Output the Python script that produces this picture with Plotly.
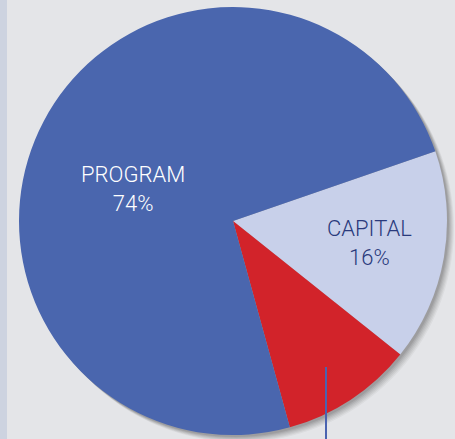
import plotly.graph_objects as go

# slice data (clockwise from the capital slice)
labels = ["CAPITAL", "OTHER", "PROGRAM"]
values = [16, 10, 74]
colors = ["#c8d0ea", "#d2232a", "#4a66ae"]
text_colors = ["#2a3a7c", "#ffffff", "#ffffff"]
show_text = [True, False, True]

W, H = 455, 439
bg = "#e4e5e8"

# pie box in pixels (left, top, size)
px0, py0, size = 19, 7, 428

fig = go.Figure(go.Pie(
    labels=labels,
    values=values,
    sort=False,
    direction="clockwise",
    rotation=71,
    marker=dict(colors=colors, line=dict(width=0)),
    textinfo="none",
    hoverinfo="label+percent",
    showlegend=False,
    domain=dict(x=[px0 / W, (px0 + size) / W], y=[1 - (py0 + size) / H, 1 - py0 / H]),
))

# soft drop shadow to the lower right
for i, a in enumerate([0.04, 0.05, 0.05, 0.06, 0.07, 0.08]):
    off = 7 - i
    fig.add_shape(type="circle", xref="paper", yref="paper", layer="below",
                  x0=(px0 + off) / W, x1=(px0 + size + off) / W,
                  y0=1 - (py0 + size + off) / H, y1=1 - (py0 + off) / H,
                  fillcolor=f"rgba(0,0,0,{a})", line=dict(width=0))

# left edge strip
fig.add_shape(type="rect", xref="paper", yref="paper", layer="below",
              x0=0, x1=7 / W, y0=0, y1=1, fillcolor="#cdd3e0", line=dict(width=0))

# slice labels
label_pos = [(369, 243), None, (133, 189)]
for lab, val, tc, show, pos in zip(labels, values, text_colors, show_text, label_pos):
    if not show:
        continue
    fig.add_annotation(x=pos[0] / W, y=1 - pos[1] / H, xref="paper", yref="paper",
                       xanchor="center", yanchor="middle",
                       text=f"{lab}<br>{val}%", showarrow=False,
                       font=dict(family="Roboto", size=22, weight=300, color=tc))

# leader line for the small slice (label is below the visible area)
fig.add_shape(type="line", xref="paper", yref="paper",
              x0=326 / W, x1=326 / W, y0=1 - 367 / H, y1=0,
              line=dict(color="#4a63b0", width=2))

fig.update_layout(
    width=W, height=H,
    margin=dict(l=0, r=0, t=0, b=0),
    paper_bgcolor=bg,
    plot_bgcolor=bg,
)

fig.write_html("out.html", config={"displayModeBar": False},
               post_script="document.body.style.margin='0';")
